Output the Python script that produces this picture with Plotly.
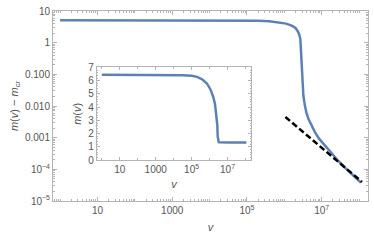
import plotly.graph_objects as go

# ---- data ----
v = [1.0, 10.0, 100.0, 1000.0, 1.0e4, 3.16e4, 1.0e5, 2.0e5, 3.98e5, 7.08e5,
     1.12e6, 1.58e6, 2.0e6, 2.29e6, 2.51e6, 2.69e6, 2.82e6, 3.02e6, 3.24e6,
     3.55e6, 3.89e6, 4.47e6, 5.25e6, 6.61e6, 8.51e6, 1.26e7, 1.91e7, 2.82e7,
     4.47e7, 7.08e7, 1.12e8]
delta_m = [5.1, 5.1, 5.1, 5.1, 5.09, 5.07, 5.03, 4.95, 4.75, 4.45,
           4.0, 3.45, 2.9, 2.3, 1.8, 1.3, 0.45, 0.087, 0.021,
           0.0105, 0.0063, 0.0038, 0.0025, 0.0015, 9.3e-4, 5.4e-4, 3.0e-4, 1.8e-4,
           1.05e-4, 6.3e-5, 3.8e-5]
m_cr = 1.34
m = [d + m_cr for d in delta_m]

asym_v = [1.07e6, 1.2e8]
asym_y = [4.5e-3, 4.0e-5]

x_tickvals = [10, 1000, 1e5, 1e7]
x_ticktext = ["10", "1000", "10<sup>5</sup>", "10<sup>7</sup>"]
y_tickvals = [1e-5, 1e-4, 1e-3, 1e-2, 1e-1, 1, 10]
y_ticktext = ["10<sup>\u22125</sup>", "10<sup>\u22124</sup>", "0.001", "0.010", "0.100", "1", "10"]
inset_y_tickvals = [0, 1, 2, 3, 4, 5, 6, 7]

BLUE = "#5E81B5"
FRAME = "#b4b4b4"
TICKC = "#555555"
FONT = "Liberation Sans"

minor_log_x = [k * 10 ** e for e in range(-1, 9) for k in range(1, 10)
               if not (k == 1 and e in (1, 3, 5, 7))]
minor_log_y = [k * 10 ** e for e in range(-6, 2) for k in range(2, 10)]
minor_inset_x = [10 ** e for e in range(0, 9) if e not in (1, 3, 5, 7)]

fig = go.Figure()
fig.add_trace(go.Scatter(x=v, y=delta_m, mode="lines",
                         line=dict(color=BLUE, width=2.5), xaxis="x", yaxis="y",
                         showlegend=False))
fig.add_trace(go.Scatter(x=asym_v, y=asym_y, mode="lines",
                         line=dict(color="black", width=2.5, dash="6px,3px"),
                         xaxis="x", yaxis="y", showlegend=False))
fig.add_trace(go.Scatter(x=v, y=m, mode="lines",
                         line=dict(color=BLUE, width=2.5), xaxis="x2", yaxis="y2",
                         showlegend=False))

common = dict(showline=True, linecolor=FRAME, linewidth=1, mirror="allticks",
              ticks="inside", tickcolor=FRAME, showgrid=False, zeroline=False,
              tickfont=dict(family=FONT, size=10, color=TICKC))

fig.update_layout(
    width=374, height=243,
    margin=dict(l=53, r=5, t=6, b=42),
    paper_bgcolor="white", plot_bgcolor="white",
    font=dict(family=FONT, color=TICKC),
    xaxis=dict(type="log", range=[-0.19, 8.24], tickmode="array",
               tickvals=x_tickvals, ticktext=x_ticktext, ticklen=4,
               minor=dict(tickmode="array", tickvals=minor_log_x, ticks="inside",
                          ticklen=2, tickcolor=FRAME),
               title=dict(text="<i>v</i>", font=dict(family=FONT, size=11, color=TICKC),
                          standoff=8),
               **common),
    yaxis=dict(type="log", range=[-5, 1], tickmode="array",
               tickvals=y_tickvals, ticktext=y_ticktext, ticklen=4,
               minor=dict(tickmode="array", tickvals=minor_log_y, ticks="inside",
                          ticklen=2, tickcolor=FRAME),
               title=dict(text="<i>m</i>(<i>v</i>) \u2212 <i>m</i><sub><i>cr</i></sub>",
                          font=dict(family=FONT, size=11, color=TICKC), standoff=4),
               **common),
    xaxis2=dict(type="log", range=[-0.28, 8.33], domain=[0.139, 0.630],
                anchor="y2", tickmode="array",
                tickvals=x_tickvals, ticktext=x_ticktext, ticklen=3,
                minor=dict(tickmode="array", tickvals=minor_inset_x, ticks="inside",
                           ticklen=2, tickcolor=FRAME),
                title=dict(text="<i>v</i>", font=dict(family=FONT, size=11, color=TICKC),
                           standoff=6),
                **common),
    yaxis2=dict(range=[0, 7], domain=[0.215, 0.703], anchor="x2",
                tickmode="array", tickvals=inset_y_tickvals, ticklen=3,
                minor=dict(dtick=0.2, ticks="inside", ticklen=1.5, tickcolor=FRAME),
                title=dict(text="<i>m</i>(<i>v</i>)",
                           font=dict(family=FONT, size=11, color=TICKC), standoff=4),
                **common),
    shapes=[
        dict(type="rect", xref="x2 domain", yref="y2 domain", x0=0, x1=1, y0=0, y1=1,
             fillcolor="white", line=dict(width=0), layer="below"),
        dict(type="line", xref="x2 domain", yref="y2", x0=0, x1=1, y0=m_cr, y1=m_cr,
             line=dict(color="#808080", width=1), layer="below"),
    ],
)

fig.write_html("out.html", config={"displayModeBar": False},
               post_script="document.body.style.margin='0';")
